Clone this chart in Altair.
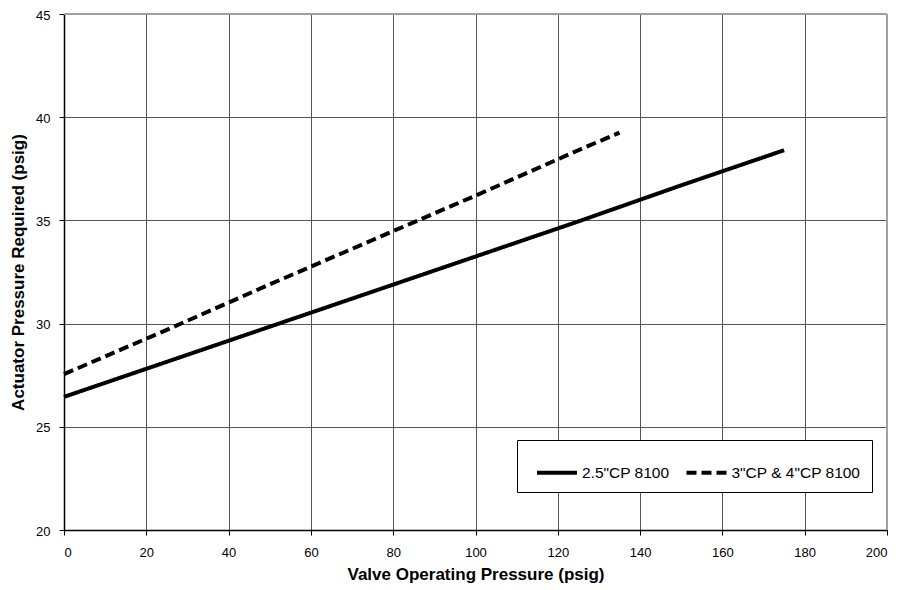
import altair as alt
import pandas as pd

# Data
x_solid = [0, 25, 50, 75, 100, 125, 150, 175]
y_solid = [26.45, 28.15, 29.85, 31.55, 33.25, 34.95, 36.7, 38.4]
x_dash = [0, 25, 50, 75, 100, 125, 135]
y_dash = [27.55, 29.7, 31.9, 34.05, 36.2, 38.4, 39.25]
series_names = ['2.5"CP 8100', '3"CP & 4"CP 8100']
x_ticks = list(range(0, 201, 20))
y_ticks = list(range(20, 46, 5))

df = pd.concat([
    pd.DataFrame({"x": x_solid, "y": y_solid, "series": series_names[0]}),
    pd.DataFrame({"x": x_dash, "y": y_dash, "series": series_names[1]}),
])

FONT = "Liberation Sans"

xscale = alt.Scale(domain=[0, 200], nice=False, zero=False)
yscale = alt.Scale(domain=[20, 45], nice=False, zero=False)

lines = alt.Chart(df).mark_line(strokeWidth=4, color="black", strokeCap="butt").encode(
    x=alt.X("x:Q", scale=xscale, title="Valve Operating Pressure (psig)",
            axis=alt.Axis(values=x_ticks, grid=True)),
    y=alt.Y("y:Q", scale=yscale, title="Actuator Pressure Required (psig)",
            axis=alt.Axis(values=y_ticks, grid=True)),
    strokeDash=alt.StrokeDash(
        "series:N",
        scale=alt.Scale(domain=series_names, range=[[1, 0], [10, 5]]),
        legend=alt.Legend(
            title=None, orient="none", legendX=453, legendY=426,
            direction="horizontal", columns=2,
            strokeColor="black", fillColor="white", padding=10.5, cornerRadius=0,
            symbolType="stroke", symbolSize=1600, symbolStrokeWidth=4,
            symbolStrokeColor="black", symbolOffset=7.5, labelOffset=3,
            columnPadding=7.5,
            labelFont=FONT, labelFontSize=15.5, labelColor="black",
        ),
    ),
)

border_top = alt.Chart(pd.DataFrame({"a": [0]})).mark_rule(color="#a0a0a0", strokeWidth=2).encode(
    x=alt.datum(0, scale=xscale), x2=alt.datum(200), y=alt.datum(45, scale=yscale)
)
border_right = alt.Chart(pd.DataFrame({"a": [0]})).mark_rule(color="#a0a0a0", strokeWidth=2).encode(
    x=alt.datum(200, scale=xscale), y=alt.datum(20, scale=yscale), y2=alt.datum(45)
)

chart = alt.layer(border_top, border_right, lines).properties(
    width=823, height=516,
    autosize=alt.AutoSizeParams(type="none"),
    padding={"left": 56, "top": 6, "right": 6, "bottom": 60},
).configure_view(stroke=None).configure_axis(
    domainColor="black", domainWidth=1.5,
    tickColor="black", tickSize=5, tickWidth=1,
    gridColor="#555555", gridWidth=1, gridOpacity=1,
    labelFont=FONT, labelFontSize=13, labelColor="black",
    titleFont=FONT, titleFontSize=17, titleFontWeight="bold", titleColor="black",
).configure_axisX(
    labelPadding=11, titlePadding=7,
).configure_axisY(
    labelPadding=9, titlePadding=8, labelOffset=1,
)

chart.save("out.html", embed_options={"renderer": "svg", "actions": False})
